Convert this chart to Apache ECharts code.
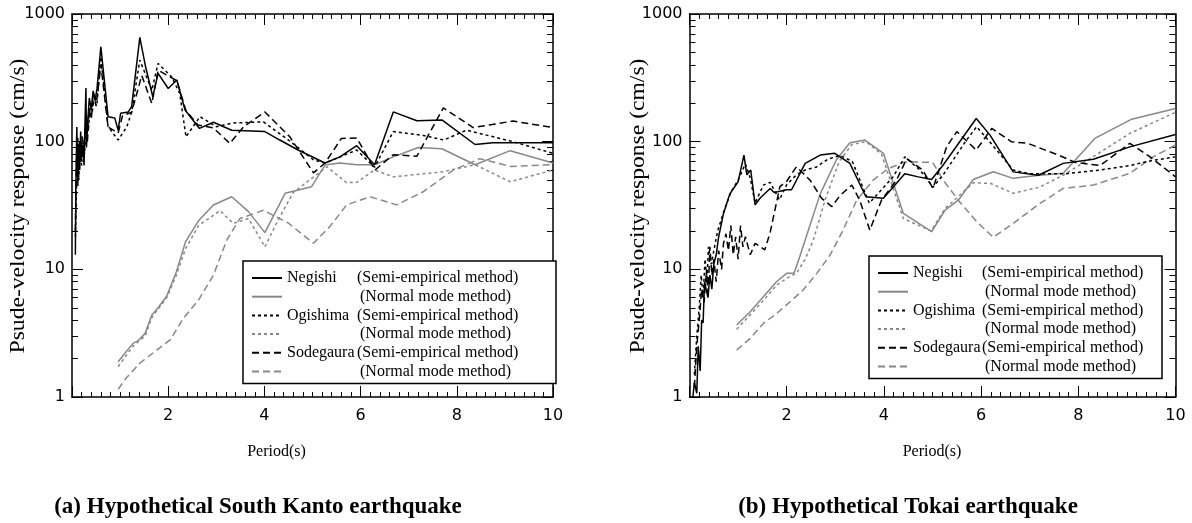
<!DOCTYPE html>
<html>
<head>
<meta charset="utf-8">
<script src="https://cdn.jsdelivr.net/npm/echarts@6/dist/echarts.min.js"></script>
<style>
  html, body { margin: 0; background: #fff; }
  #chart { width: 1192px; height: 523px; }
</style>
</head>
<body>
<div id="chart"></div>
<script>
// (a) South Kanto: [period (s), pseudo-velocity response (cm/s)]
var kantoNegishiSemi = [[0.07,13],[0.08,45],[0.1,130],[0.12,55],[0.14,95],[0.16,60],[0.18,120],[0.2,75],[0.22,95],[0.25,65],[0.27,140],[0.29,263],[0.3,90],[0.33,150],[0.36,220],[0.4,180],[0.44,250],[0.48,210],[0.52,260],[0.6,553],[0.75,157],[0.89,153],[0.96,123],[1.01,167],[1.17,171],[1.24,188],[1.41,656],[1.53,386],[1.68,225],[1.79,343],[2.0,261],[2.18,304],[2.35,177],[2.65,127],[2.94,142],[3.32,123],[4.01,120],[4.32,103],[4.7,86],[5.26,68],[5.57,76],[5.92,93],[6.29,66],[6.68,171],[7.17,146],[7.69,148],[8.38,95],[8.75,98],[10,98]];
var kantoNegishiNormal = [[0.96,1.89],[1.1,2.2],[1.27,2.63],[1.37,2.75],[1.52,3.15],[1.66,4.39],[1.79,5],[1.97,6.18],[2.17,9.57],[2.36,16.4],[2.63,24],[2.94,31.9],[3.32,37],[3.67,28.3],[4.01,19.4],[4.43,39.4],[4.98,44.4],[5.26,65.6],[5.57,68],[5.92,66],[6.29,66],[6.68,76],[7.2,90],[7.69,88],[8.38,66],[9.11,85],[10,68]];
var kantoOgishimaSemi = [[0.07,18],[0.08,25],[0.1,60],[0.12,110],[0.14,50],[0.17,85],[0.2,65],[0.23,100],[0.26,80],[0.3,160],[0.34,120],[0.38,200],[0.42,170],[0.47,230],[0.52,200],[0.6,462],[0.75,131],[0.96,103],[1.14,131],[1.24,170],[1.41,435],[1.66,253],[1.79,410],[2.07,322],[2.24,239],[2.37,109],[2.66,157],[3.0,131],[3.34,140],[3.98,143],[4.5,103],[5.02,72],[5.26,68],[5.92,86],[6.29,63],[6.68,120],[7.3,112],[7.73,103],[8.2,123],[9.17,100],[10,81]];
var kantoOgishimaNormal = [[0.96,1.73],[1.1,2.05],[1.27,2.5],[1.52,3.0],[1.66,4.2],[1.97,6.0],[2.17,9.0],[2.36,14.5],[2.63,22],[3.08,28.8],[3.35,22.9],[3.67,25],[4.01,15],[4.3,25],[4.6,40],[5.3,63.6],[5.71,47.7],[5.92,48],[6.29,60],[6.68,53],[7.3,56],[7.7,58],[8.38,66],[9.11,48.5],[10,60]];
var kantoSodegauraSemi = [[0.07,20],[0.08,35],[0.1,90],[0.12,45],[0.15,100],[0.18,70],[0.21,110],[0.24,85],[0.28,130],[0.32,100],[0.36,180],[0.4,150],[0.45,240],[0.5,190],[0.6,400],[0.75,130],[0.96,117],[1.05,160],[1.24,170],[1.45,330],[1.66,199],[1.79,363],[2.18,300],[2.37,175],[2.62,135],[2.94,128],[3.28,97],[3.57,131],[4.01,171],[4.53,109],[5.02,57],[5.26,68],[5.6,106],[5.92,107],[6.3,60],[6.68,79],[7.17,77],[7.72,184],[8.34,129],[9.17,145],[10,129]];
var kantoSodegauraNormal = [[0.96,1.15],[1.12,1.4],[1.41,1.84],[1.76,2.33],[2.04,2.8],[2.31,4.1],[2.63,5.75],[2.94,9],[3.22,17],[3.49,25],[3.98,29],[4.5,23],[5.02,16],[5.36,21.6],[5.71,32],[6.2,37],[6.75,32],[7.3,40.5],[7.93,60],[8.48,73.6],[9.11,64],[10,66]];

// (b) Tokai
var tokaiNegishiSemi = [[0.07,1],[0.1,1.3],[0.15,1.07],[0.18,2.5],[0.22,1.6],[0.25,4],[0.28,3.8],[0.31,8],[0.35,8.2],[0.38,6],[0.42,9],[0.46,7],[0.5,11],[0.55,13],[0.6,18],[0.7,27.4],[0.83,39],[1.0,48.5],[1.12,78.5],[1.18,55],[1.26,60],[1.35,32],[1.45,36],[1.66,43],[1.74,40],[2.0,42],[2.1,42],[2.38,67.6],[2.69,78.5],[2.99,81],[3.3,67.6],[3.63,37],[3.99,36],[4.43,56],[4.71,53],[4.98,50.6],[5.22,65.6],[5.9,152],[6.18,113],[6.66,58],[7.18,54.6],[7.69,67.6],[8.31,72.8],[9.06,91],[10,114]];
var tokaiNegishiNormal = [[0.97,3.66],[1.25,4.66],[1.52,6.1],[1.79,8],[2.0,9.3],[2.15,9.3],[2.27,12.6],[2.38,17],[2.69,39],[3.02,71.8],[3.3,98],[3.61,103],[3.99,81],[4.4,27.4],[4.98,19.7],[5.26,29.1],[5.53,34.8],[5.84,50.6],[6.25,58.2],[6.66,51.6],[7.2,54.6],[7.69,56.5],[8.34,106],[9.1,150],[10,182]];
var tokaiOgishimaSemi = [[0.1,1.5],[0.15,3],[0.2,5],[0.24,9],[0.28,6],[0.32,12],[0.36,8],[0.39,15],[0.45,11],[0.5,14],[0.58,20],[0.7,28],[0.85,40],[1.0,50],[1.15,67],[1.25,52],[1.35,33],[1.52,45.7],[1.66,48],[1.85,35],[2.0,46],[2.2,55],[2.38,60],[2.6,63],[2.85,73],[3.1,78],[3.35,70],[3.7,33],[4.19,53],[4.43,76],[4.74,60],[5.01,44],[5.22,55],[5.7,103],[5.91,131],[6.32,86],[6.66,60],[7.0,56],[7.72,56],[8.45,60],[9.06,65],[9.5,71],[10,76]];
var tokaiOgishimaNormal = [[0.97,3.4],[1.25,4.4],[1.52,5.7],[1.79,7.5],[2.0,8.5],[2.2,9.3],[2.38,12],[2.55,17],[2.79,35],[3.08,70],[3.34,95],[3.63,100],[3.95,80],[4.4,25],[4.97,20],[5.26,30],[5.84,47.7],[6.2,47],[6.66,39.4],[7.2,44],[7.69,54.6],[8.3,76],[9.06,116],[10,170]];
var tokaiSodegauraSemi = [[0.1,1.2],[0.15,2.5],[0.2,4],[0.25,7],[0.3,5.5],[0.35,10],[0.38,6],[0.42,15],[0.46,9],[0.5,12],[0.55,8],[0.6,14],[0.66,10],[0.7,16],[0.75,19],[0.8,14],[0.85,22],[0.9,13],[0.95,18],[1.0,12],[1.05,22],[1.1,15],[1.15,18],[1.25,13],[1.35,16],[1.55,14.2],[1.66,19.5],[1.86,44.5],[2.0,49],[2.2,63.6],[2.48,50],[2.72,36],[2.93,31],[3.1,38],[3.34,45.7],[3.5,35],[3.71,20.3],[3.95,34.8],[4.26,50],[4.47,73.6],[4.8,60],[5.01,43],[5.29,91],[5.5,120],[5.9,86],[6.22,127],[6.62,100],[6.96,97],[7.59,78.5],[7.93,69],[8.45,65],[9.06,97],[9.5,75],[10,53]];
var tokaiSodegauraNormal = [[0.97,2.33],[1.25,2.88],[1.52,3.77],[1.79,4.5],[2.07,5.57],[2.34,6.9],[2.62,9.3],[2.89,12.9],[3.16,20.3],[3.44,34.8],[3.78,50],[4.09,61.6],[4.43,69.3],[5.0,69],[5.22,50],[5.53,34.8],[5.91,23.6],[6.25,17.8],[6.66,22.9],[7.21,32.8],[7.69,43],[8.31,45.7],[9.06,56.5],[9.54,76],[10,94]];

var stations = ['Negishi', 'Ogishima', 'Sodegaura'];
var methods = ['(Semi-empirical method)', '(Normal mode method)'];
var panelTitles = ['(a) Hypothetical South Kanto earthquake', '(b) Hypothetical Tokai earthquake'];
var xTitle = 'Period(s)';
var yTitle = 'Psude-velocity response (cm/s)';

var serif = 'Liberation Serif';
var sans = 'DejaVu Sans';
var gray = '#888';
var dotted = [3, 3];
var dashed = [7, 4];

var chart = echarts.init(document.getElementById('chart'));

var panels = [
    {key: 'a', data: [kantoNegishiSemi, kantoNegishiNormal, kantoOgishimaSemi, kantoOgishimaNormal, kantoSodegauraSemi, kantoSodegauraNormal]},
    {key: 'b', data: [tokaiNegishiSemi, tokaiNegishiNormal, tokaiOgishimaSemi, tokaiOgishimaNormal, tokaiSodegauraSemi, tokaiSodegauraNormal]}
];
var looks = [
    ['#000', 'solid'], [gray, 'solid'],
    ['#000', dotted], [gray, dotted],
    ['#000', dashed], [gray, dashed]
];

var legendLabel = {};
var series = [];
var legendNames = [[], []];
panels.forEach(function (p, gi) {
    p.data.forEach(function (d, i) {
        var name = p.key + i;
        var st = i % 2 === 0 ? stations[i / 2] : '';
        legendLabel[name] = [st, methods[i % 2]];
        legendNames[gi].push(name);
        series.push({
            name: name,
            type: 'line',
            xAxisIndex: gi,
            yAxisIndex: gi,
            data: d,
            symbol: 'none',
            z: looks[i][0] === '#000' ? 3 : 2,
            lineStyle: {color: looks[i][0], width: 1.5, type: looks[i][1]},
            itemStyle: {color: looks[i][0]}
        });
    });
});

function axisBits(major, minor, split) {
    return {
        splitLine: {show: false},
        axisLine: {show: true, onZero: false, lineStyle: {color: '#000', width: 1.5}},
        axisTick: {show: true, inside: true, length: major, lineStyle: {color: '#000', width: 1}},
        minorTick: {show: true, splitNumber: split, length: minor, lineStyle: {color: '#000', width: 1}}
    };
}

function xBottom(gi) {
    return Object.assign(axisBits(11, 5, 10), {
        type: 'value', gridIndex: gi, min: 0, max: 10, interval: 2,
        position: 'bottom',
        axisLabel: {margin: 11, fontFamily: sans, fontSize: 16, color: '#000',
            formatter: function (v) { return v === 0 ? '' : String(v); }}
    });
}
function xTop(gi) {
    return Object.assign(axisBits(11, 5, 10), {
        type: 'value', gridIndex: gi, min: 0, max: 10, interval: 2,
        position: 'top', axisLabel: {show: false}
    });
}
function yLeft(gi) {
    return Object.assign(axisBits(11, 6, 9), {
        type: 'log', logBase: 10, gridIndex: gi, min: 1, max: 1000,
        position: 'left',
        axisLabel: {margin: 7, fontFamily: sans, fontSize: 16, color: '#000',
            formatter: function (v) { return String(Math.round(v)); }}
    });
}
function yRight(gi) {
    return Object.assign(axisBits(11, 6, 9), {
        type: 'log', logBase: 10, gridIndex: gi, min: 1, max: 1000,
        position: 'right', axisLabel: {show: false}
    });
}

function legendFor(gi, left, top, colA, colB) {
    return {
        data: legendNames[gi],
        orient: 'vertical',
        left: left, top: top,
        padding: [8, 4, 3, 8],
        itemGap: 0.7,
        itemWidth: 30, itemHeight: 10,
        itemStyle: {opacity: 0},
        borderColor: '#000', borderWidth: 1.5,
        backgroundColor: '#fff',
        selectedMode: false,
        formatter: function (name) {
            var t = legendLabel[name];
            return '{a|' + t[0] + '}{' + (t[0] ? 'b' : 'c') + '|' + t[1] + '}';
        },
        textStyle: {
            fontFamily: serif, fontSize: 16, color: '#000', lineHeight: 18,
            rich: {
                a: {width: colA, fontFamily: serif, fontSize: 16, lineHeight: 18},
                b: {width: colB, fontFamily: serif, fontSize: 16, lineHeight: 18},
                c: {width: colB - 3, padding: [0, 0, 0, 3], fontFamily: serif, fontSize: 16, lineHeight: 18}
            }
        }
    };
}

function label(text, x, y, size, opts) {
    return Object.assign({
        type: 'text', x: x, y: y,
        style: {text: text, fontFamily: serif, fontSize: size, fontWeight: (opts && opts.bold) ? 'bold' : 'normal',
            fill: '#000', align: 'center', verticalAlign: 'middle'}
    }, opts && opts.el);
}

var rectA = {left: 72, top: 14, width: 481, height: 383};
var rectB = {left: 689.5, top: 14, width: 486, height: 383};

var option = {
    animation: false,
    backgroundColor: '#fff',
    // grids 0,1 carry the data; grids 2,3 sit on top of them for the top/right frame ticks
    grid: [rectA, rectB, Object.assign({}, rectA), Object.assign({}, rectB)],
    xAxis: [xBottom(0), xBottom(1), xTop(2), xTop(3)],
    yAxis: [yLeft(0), yLeft(1), yRight(2), yRight(3)],
    legend: [
        legendFor(0, 243, 261, 70, 195),
        legendFor(1, 869, 256, 69, 176)
    ],
    graphic: [
        label(xTitle, 276.5, 452, 16),
        label(xTitle, 932, 452, 16),
        label(yTitle, 19, 206, 20, {el: {rotation: Math.PI / 2, scaleX: 1.18}}),
        label(yTitle, 639, 206, 20, {el: {rotation: Math.PI / 2, scaleX: 1.18}}),
        label(panelTitles[0], 258, 507, 23, {bold: true}),
        label(panelTitles[1], 908, 507, 23, {bold: true})
    ],
    series: series
};

chart.setOption(option);
</script>
</body>
</html>
